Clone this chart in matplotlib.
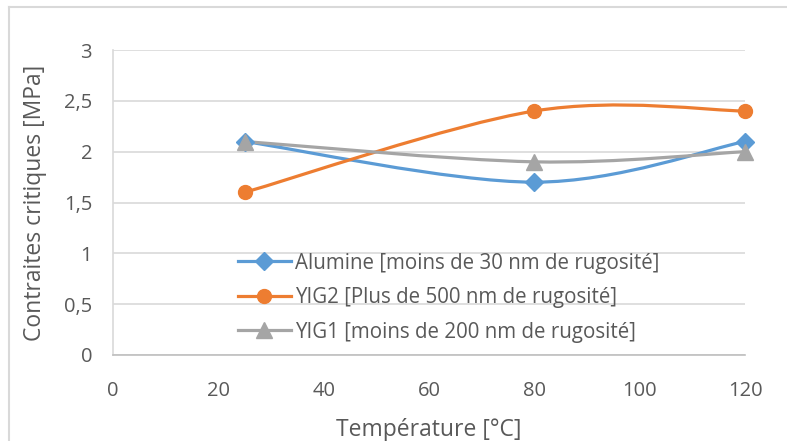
import matplotlib.pyplot as plt
from matplotlib.path import Path
from matplotlib.patches import PathPatch
from matplotlib.lines import Line2D
import numpy as np

plt.rcParams['font.family'] = ['Open Sans', 'DejaVu Sans']

# data
temperature = [25, 80, 120]
alumine = [2.1, 1.7, 2.1]
yig2 = [1.6, 2.4, 2.4]
yig1 = [2.1, 1.9, 2.0]
labels = ['Alumine [moins de 30 nm de rugosité]',
          'YIG2 [Plus de 500 nm de rugosité]',
          'YIG1 [moins de 200 nm de rugosité]']
xticks = [0, 20, 40, 60, 80, 100, 120]
yticks = [0, 0.5, 1, 1.5, 2, 2.5, 3]
ytick_labels = ['0', '0,5', '1', '1,5', '2', '2,5', '3']

text_col = '#595959'


def smooth_path(x, y):
    # Excel-like smoothing: cubic bezier with catmull-rom control points
    pts = np.column_stack([x, y]).astype(float)
    ext = np.vstack([pts[0], pts, pts[-1]])
    verts = [pts[0]]
    codes = [Path.MOVETO]
    for i in range(1, len(ext) - 2):
        p0, p1, p2, p3 = ext[i - 1], ext[i], ext[i + 1], ext[i + 2]
        c1 = p1 + (p2 - p0) / 6
        c2 = p2 - (p3 - p1) / 6
        verts += [c1, c2, p2]
        codes += [Path.CURVE4] * 3
    return Path(verts, codes)


fig = plt.figure(figsize=(7.87, 4.41), dpi=100)
ax = fig.add_axes([113 / 787, 1 - 355 / 441, (745 - 113) / 787, (355 - 50) / 441])

series = [
    (alumine, '#5B9BD5', 'D', 9.5),
    (yig2, '#ED7D31', 'o', 10),
    (yig1, '#A5A5A5', '^', 11),
]
handles = []
for (vals, col, mk, ms), lab in zip(series, labels):
    patch = PathPatch(smooth_path(temperature, vals), facecolor='none',
                      edgecolor=col, lw=2.3, zorder=3, capstyle='round')
    ax.add_patch(patch)
    ax.plot(temperature, vals, linestyle='none', marker=mk, ms=ms,
            color=col, zorder=4, clip_on=False)
    handles.append(Line2D([], [], color=col, lw=2.3, marker=mk, ms=ms))

ax.set_xlim(0, 120)
ax.set_ylim(0, 3)
ax.set_xticks(xticks)
ax.set_yticks(yticks)
ax.set_yticklabels(ytick_labels)
ax.tick_params(length=0, labelsize=14.5, colors=text_col)
ax.tick_params(axis='y', pad=15)
ax.tick_params(axis='x', pad=19)
ax.grid(axis='y', color='#D9D9D9', lw=1.2)
ax.set_axisbelow(True)
for s in ['top', 'right']:
    ax.spines[s].set_visible(False)
ax.spines['left'].set_color('#D9D9D9')
ax.spines['bottom'].set_color('#BFBFBF')
ax.spines['left'].set_linewidth(1.2)
ax.spines['bottom'].set_linewidth(1.2)

ax.set_xlabel('Température [°C]', fontsize=16.5, color=text_col, labelpad=12)
ax.set_ylabel('Contraites critiques [MPa]', fontsize=16.5, color=text_col, labelpad=12)

leg = ax.legend(handles, labels, loc='upper left', bbox_to_anchor=(0.184, 0.363),
                frameon=False, fontsize=14.8, handlelength=2.6, handletextpad=0.2,
                labelspacing=0.66, borderaxespad=0)
for t in leg.get_texts():
    t.set_color(text_col)

# outer chart border
fig.add_artist(Line2D([9 / 787, 1], [1 - 7 / 441] * 2, color='#D9D9D9', lw=1.5,
                      transform=fig.transFigure))
fig.add_artist(Line2D([9 / 787] * 2, [0, 1 - 7 / 441], color='#D9D9D9', lw=1.5,
                      transform=fig.transFigure))

fig.savefig('out.png', dpi=100)
